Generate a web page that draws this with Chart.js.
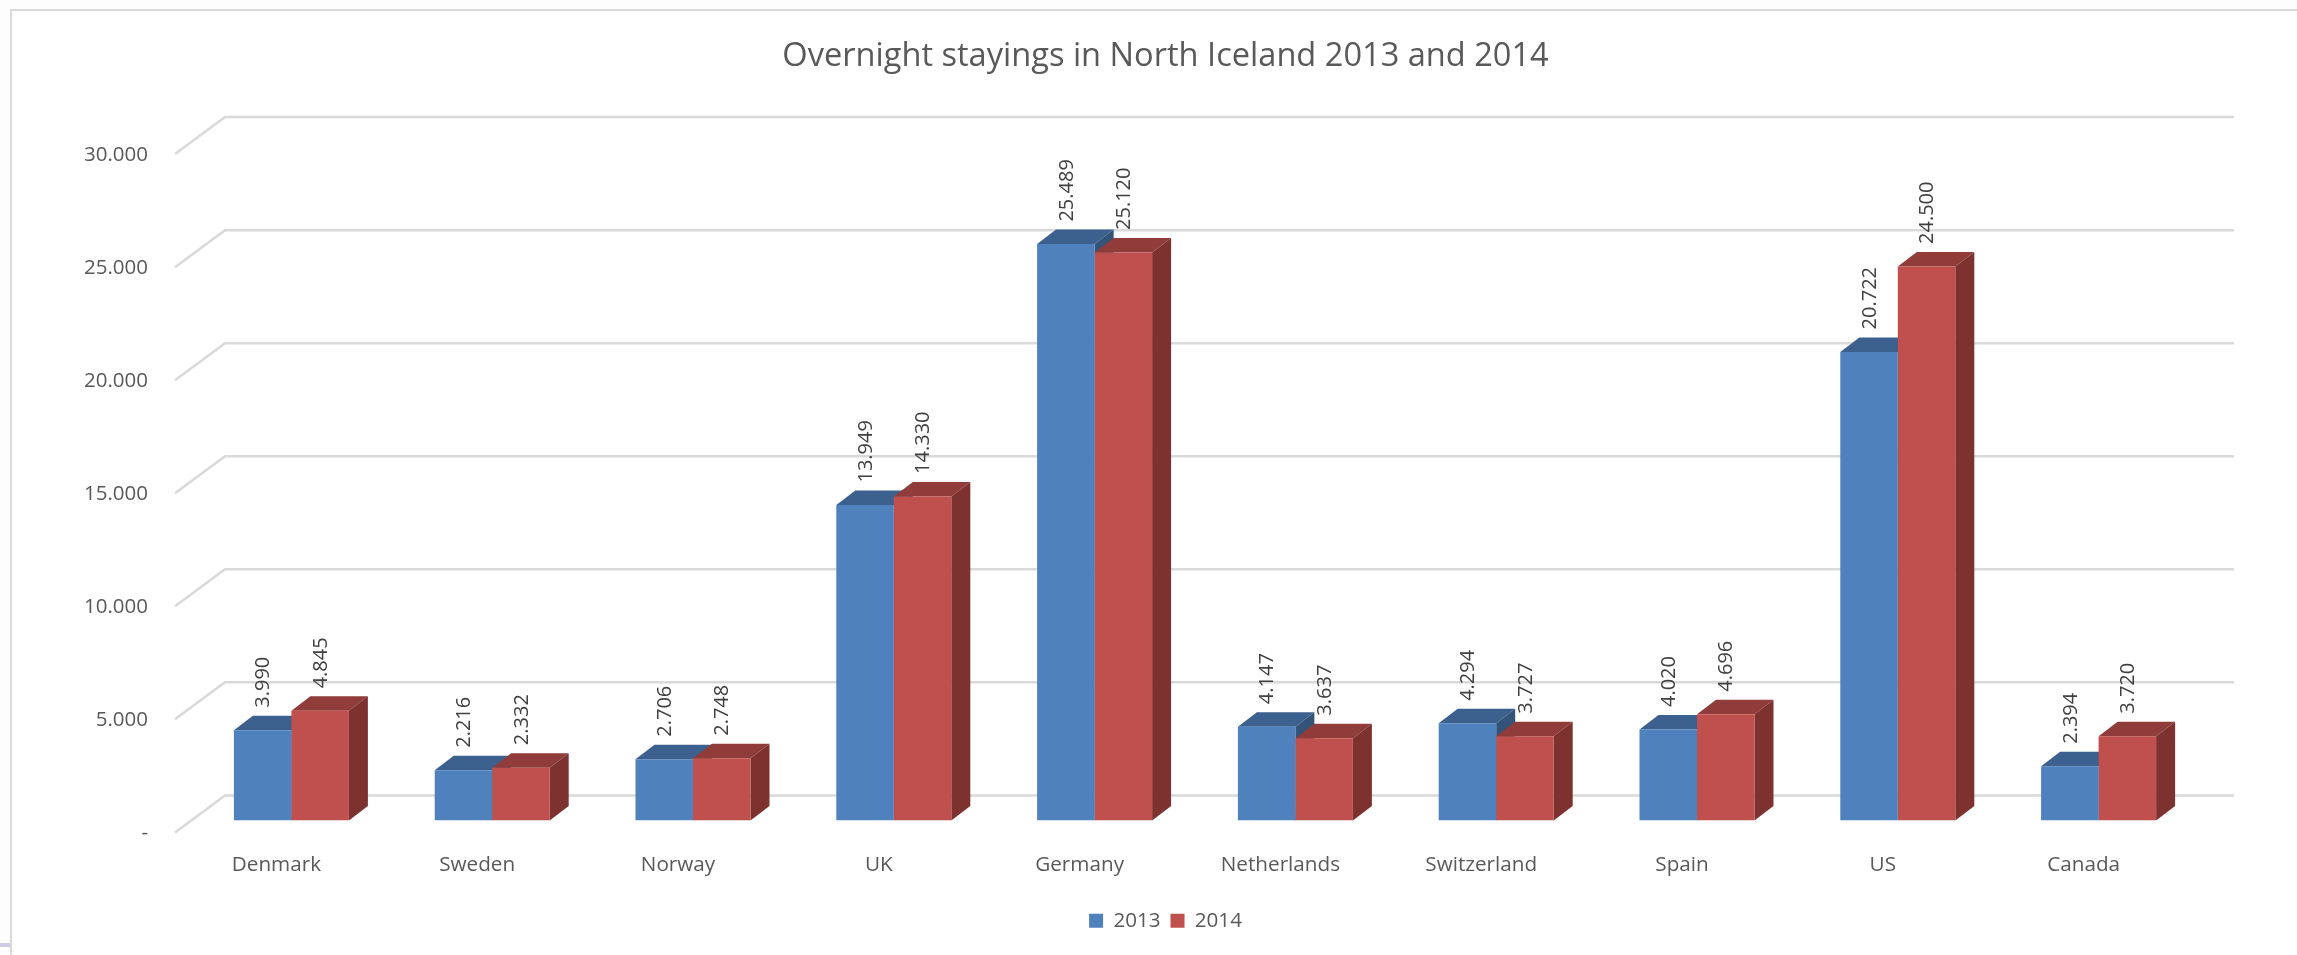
<!DOCTYPE html>
<html><head><meta charset="utf-8">
<style>html,body{margin:0;padding:0;background:#fff}#w{position:absolute;left:0;top:0;width:2297px;height:955px}</style>
<script src="https://cdn.jsdelivr.net/npm/chart.js@4/dist/chart.umd.min.js"></script>
</head><body><div id="w"><canvas id="c"></canvas></div>
<script>
const categories=["Denmark","Sweden","Norway","UK","Germany","Netherlands","Switzerland","Spain","US","Canada"];
const values2013=[3990,2216,2706,13949,25489,4147,4294,4020,20722,2394];
const values2014=[4845,2332,2748,14330,25120,3637,3727,4696,24500,3720];
const seriesNames=["2013","2014"];
const FONT='"Open Sans"';
const fmt=v=>v===0?'-':(v/1000).toFixed(3);
const palette=[{f:'#4f81bd',t:'#3c618e',s:'#335478'},{f:'#c0504d',t:'#903c3a',s:'#7d3230'}];
const DX=19,DY=14.5,WALL=25,STUBX=50;
const stage={id:'stage',
 afterLayout(ch){
  // title and legend sit centred on the plot, not on the axis box
  [ch.titleBlock,ch.legend].forEach(b=>{b.left+=49;b.right+=49;});
 },
 beforeDraw(ch){const c=ch.ctx;c.save();
  c.fillStyle='#fdfdfd';c.fillRect(0,0,ch.width,ch.height);
  c.fillStyle='#fff';c.fillRect(11,10,ch.width-11,ch.height-10);
  c.fillStyle='#cfcbe4';c.fillRect(0,943,10,4);
  c.strokeStyle='#d9d9d9';c.lineWidth=2;
  c.beginPath();c.moveTo(11,955);c.lineTo(11,10);c.lineTo(2297,10);c.stroke();
  c.restore();},
 beforeDatasetsDraw(ch){const c=ch.ctx,y=ch.scales.y;c.save();
  c.strokeStyle='#d9d9d9';c.lineWidth=2.5;
  y.ticks.forEach(t=>{const p=y.getPixelForValue(t.value);
   c.beginPath();c.moveTo(175,p+12);c.lineTo(225,p-WALL);c.lineTo(2234,p-WALL);c.stroke();});
  c.restore();
  // 3D sides of every bar, from the library's own bar elements
  [0,1].forEach(i=>{ch.getDatasetMeta(i).data.forEach(b=>{
    const l=b.x-b.width/2,r=b.x+b.width/2,top=b.y,base=b.base,col=palette[i];
    c.fillStyle=col.t;c.beginPath();c.moveTo(l,top);c.lineTo(l+DX,top-DY);c.lineTo(r+DX,top-DY);c.lineTo(r,top);c.fill();
    c.fillStyle=col.s;c.beginPath();c.moveTo(r,top);c.lineTo(r+DX,top-DY);c.lineTo(r+DX,base-DY);c.lineTo(r,base);c.fill();
  });});
 },
 afterDatasetsDraw(ch){const c=ch.ctx;c.save();
  c.fillStyle='#404040';c.font='20px '+FONT;c.textAlign='left';c.textBaseline='middle';
  [0,1].forEach(i=>{ch.getDatasetMeta(i).data.forEach((b,j)=>{
    c.save();c.translate(b.x+1,b.y-DY-8);c.rotate(-Math.PI/2);
    c.fillText(fmt(ch.data.datasets[i].data[j]),0,0);c.restore();});});
  c.restore();}
};
new Chart(document.getElementById('c'),{type:'bar',
 data:{labels:categories,datasets:[
  {label:seriesNames[0],data:values2013,backgroundColor:palette[0].f,categoryPercentage:.5727,barPercentage:1},
  {label:seriesNames[1],data:values2014,backgroundColor:palette[1].f,categoryPercentage:.5727,barPercentage:1}]},
 options:{responsive:true,maintainAspectRatio:false,animation:false,
  layout:{padding:{left:34,right:98,top:0,bottom:14}},
  plugins:{tooltip:{enabled:false},
   title:{display:true,text:'Overnight stayings in North Iceland 2013 and 2014',color:'#595959',font:{family:FONT,size:32.6,weight:'normal'},padding:{top:37.5,bottom:65.5}},
   legend:{position:'bottom',labels:{color:'#595959',font:{family:FONT,size:20.6},boxWidth:14,boxHeight:14,padding:10}}},
  scales:{
   x:{grid:{display:false},border:{display:false},
      afterFit(s){s.height=80;},
      ticks:{color:'#595959',font:{family:FONT,size:20.7},labelOffset:-15,padding:24,maxRotation:0,autoSkip:false}},
   y:{min:0,max:30000,grid:{display:false},border:{display:false},
      afterFit(s){s.width=157;},
      ticks:{stepSize:5000,color:'#595959',font:{family:FONT,size:20.5},labelOffset:13,padding:35,callback:v=>fmt(v)}}
  }},
 plugins:[stage]});
</script></body></html>
